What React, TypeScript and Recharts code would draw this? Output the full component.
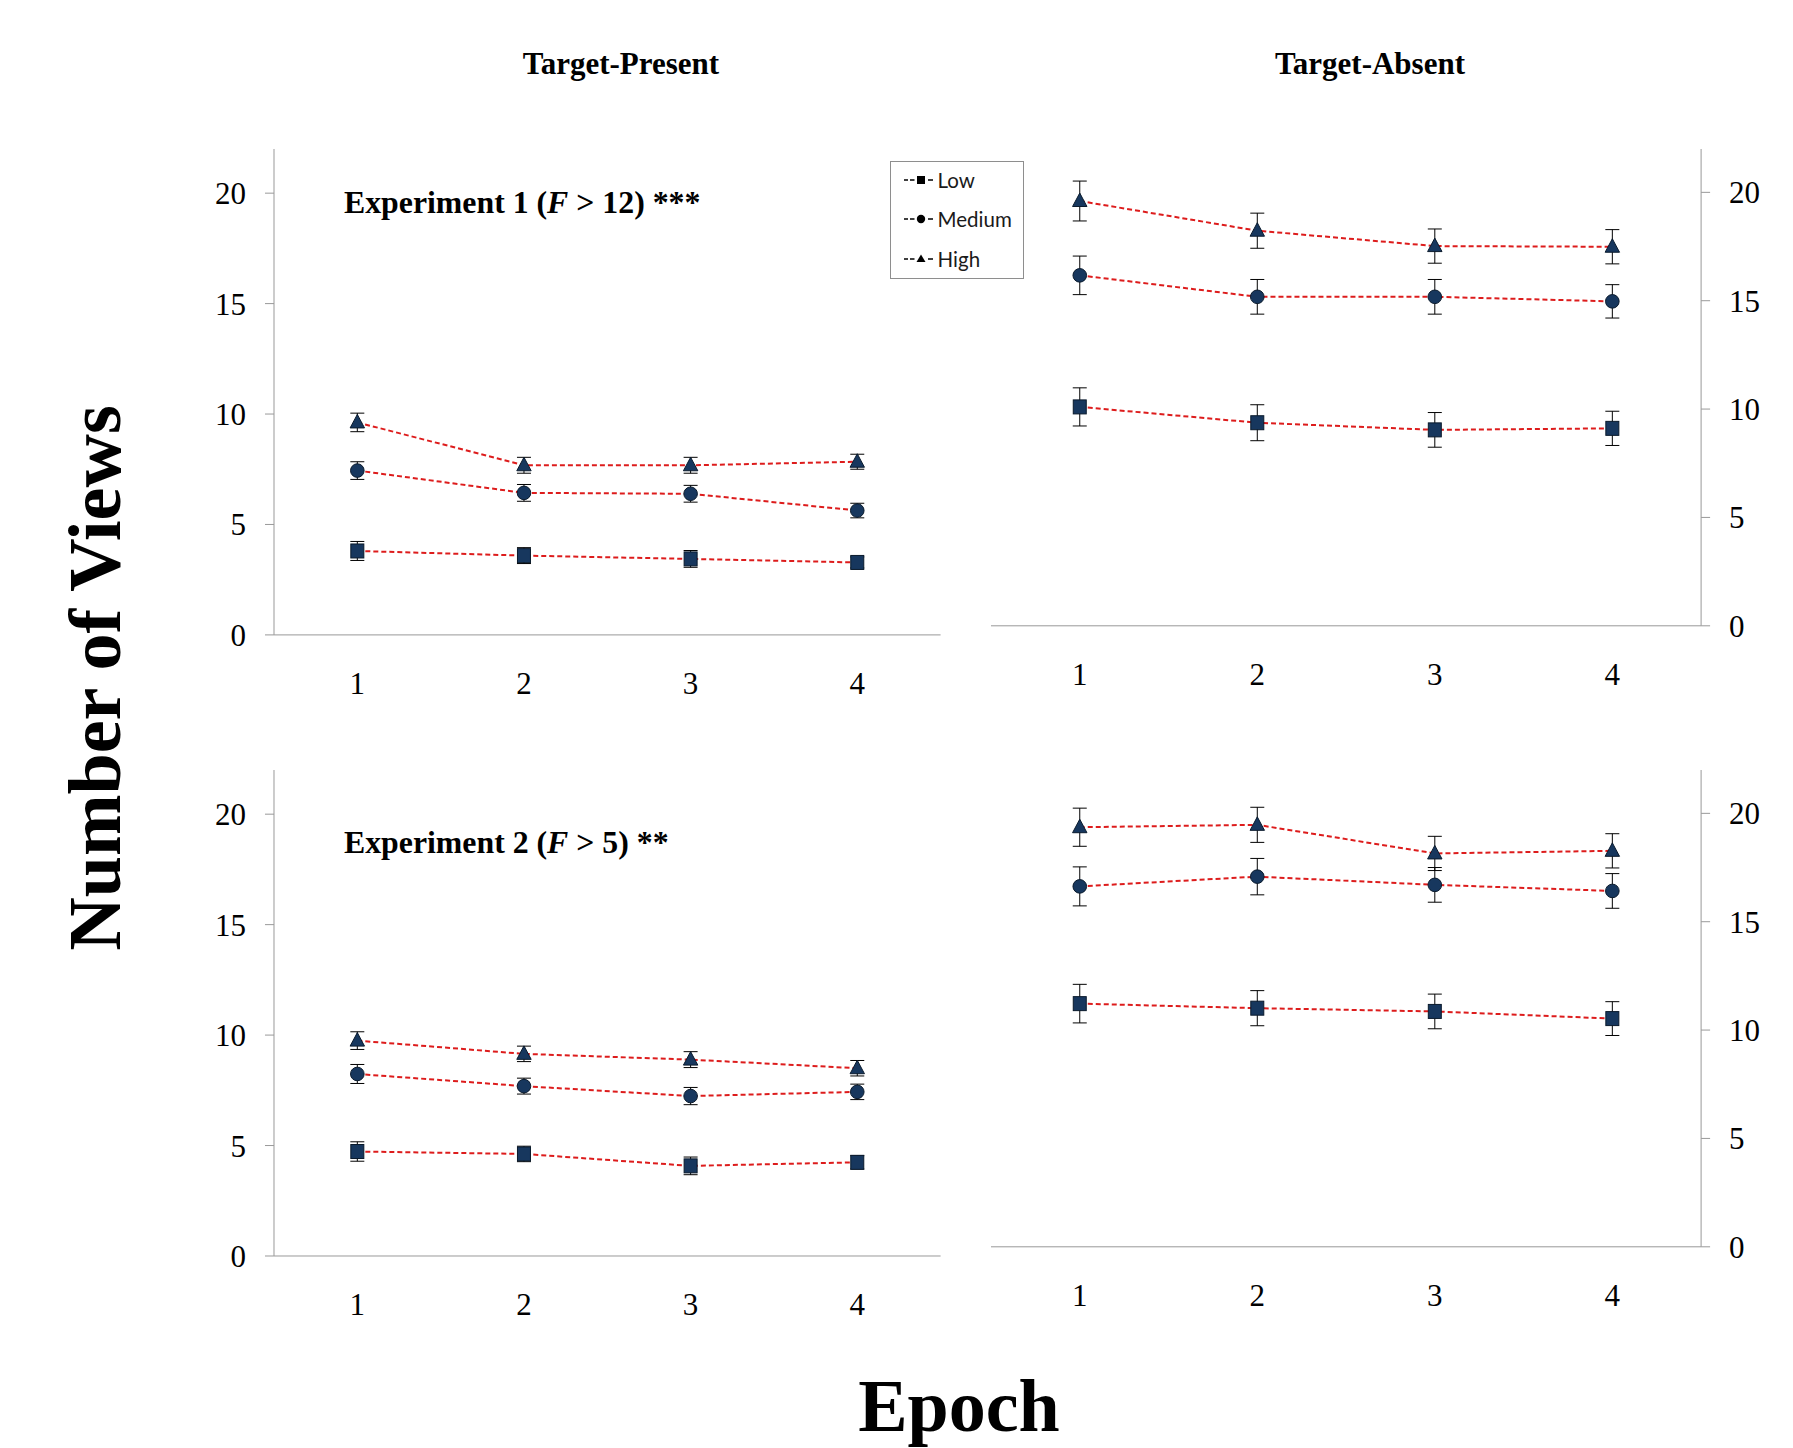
import React from "react";
import { LineChart, Line, XAxis, YAxis, ErrorBar, Legend } from "recharts";

const EPOCHS = [1, 2, 3, 4];
const BOUNDS = [0.5, 1.5, 2.5, 3.5, 4.5];
const Y_TICKS = [0, 5, 10, 15, 20];
const SERIES = ["Low", "Medium", "High"];

// Experiment 1, target-present
const tp1Low = [3.8, 3.59, 3.44, 3.28];
const tp1LowErr = [0.43, 0.36, 0.38, 0.25];
const tp1Med = [7.44, 6.43, 6.39, 5.63];
const tp1MedErr = [0.4, 0.38, 0.38, 0.33];
const tp1High = [9.62, 7.68, 7.68, 7.84];
const tp1HighErr = [0.42, 0.36, 0.36, 0.34];

// Experiment 1, target-absent
const ta1Low = [10.1, 9.37, 9.04, 9.11];
const ta1LowErr = [0.88, 0.83, 0.8, 0.79];
const ta1Med = [16.17, 15.18, 15.18, 14.97];
const ta1MedErr = [0.89, 0.8, 0.8, 0.77];
const ta1High = [19.6, 18.23, 17.52, 17.49];
const ta1HighErr = [0.92, 0.81, 0.79, 0.79];

// Experiment 2, target-present
const tp2Low = [4.73, 4.62, 4.08, 4.24];
const tp2LowErr = [0.44, 0.35, 0.4, 0.3];
const tp2Med = [8.24, 7.69, 7.24, 7.43];
const tp2MedErr = [0.43, 0.36, 0.39, 0.35];
const tp2High = [9.75, 9.15, 8.89, 8.5];
const tp2HighErr = [0.4, 0.35, 0.36, 0.35];

// Experiment 2, target-absent
const ta2Low = [11.22, 11.01, 10.86, 10.53];
const ta2LowErr = [0.89, 0.81, 0.8, 0.78];
const ta2Med = [16.63, 17.08, 16.7, 16.42];
const ta2MedErr = [0.9, 0.84, 0.8, 0.8];
const ta2High = [19.36, 19.47, 18.15, 18.27];
const ta2HighErr = [0.88, 0.81, 0.79, 0.79];

const SERIF = "'Liberation Serif', 'Times New Roman', serif";
const NAVY = "#17375e";
const RED = "#dd1c1c";
const AXIS = "#999";

function rows(low, lowErr, med, medErr, high, highErr) {
  return EPOCHS.map((e, i) => ({
    epoch: e,
    Low: low[i],
    LowErr: lowErr[i],
    Medium: med[i],
    MediumErr: medErr[i],
    High: high[i],
    HighErr: highErr[i],
  }));
}

// tick labels drawn as plain serif text (recharts passes x, y, anchor and payload)
function SerifTick(props: any) {
  const { x, y, payload, textAnchor, verticalAnchor } = props;
  const dy = verticalAnchor === "start" ? "0.71em" : "0.355em";
  return (
    <text x={x} y={y} dy={dy} textAnchor={textAnchor} fill="#000" fontSize={31} fontFamily={SERIF}>
      {payload.value}
    </text>
  );
}

function marker(kind: string) {
  return (props: any) => {
    const { cx, cy, index } = props;
    const k = `${kind}-${index}`;
    if (cx == null || cy == null) return <g key={k} />;
    if (kind === "Low")
      return <rect key={k} x={cx - 6.5} y={cy - 7} width={13} height={14} fill={NAVY} stroke="#0a1a2c" strokeWidth={1} />;
    if (kind === "Medium")
      return <circle key={k} cx={cx} cy={cy} r={6.8} fill={NAVY} stroke="#0a1a2c" strokeWidth={1} />;
    return <path key={k} d={`M${cx},${cy - 8}L${cx + 7.2},${cy + 5.5}L${cx - 7.2},${cy + 5.5}Z`} fill={NAVY} stroke="#0a1a2c" strokeWidth={1} />;
  };
}

function LegendIcon({ kind }: { kind: string }) {
  let m;
  if (kind === "Low") m = <rect x={14} y={3} width={8} height={8} fill="#000" />;
  else if (kind === "Medium") m = <circle cx={18} cy={7} r={4.2} fill="#000" />;
  else m = <path d="M18,2.5L22.5,10L13.5,10Z" fill="#000" />;
  return (
    <svg width={34} height={14} style={{ display: "block" }}>
      <line x1={1} y1={7} x2={5} y2={7} stroke="#000" strokeWidth={1.5} />
      <line x1={7} y1={7} x2={11.5} y2={7} stroke="#000" strokeWidth={1.5} />
      {m}
      <line x1={25} y1={7} x2={30} y2={7} stroke="#000" strokeWidth={1.5} />
    </svg>
  );
}

function LegendBox({ payload }: any) {
  const items = [...(payload || [])].sort((a: any, b: any) => SERIES.indexOf(a.value) - SERIES.indexOf(b.value));
  return (
    <div
      style={{
        width: 134,
        height: 118,
        border: "1px solid #8e8e8e",
        boxSizing: "border-box",
        background: "#fff",
        position: "relative",
        fontFamily: "Lato, 'Open Sans', sans-serif",
        fontSize: 20.5,
        color: "#1a1a1a",
      }}
    >
      {items.map((p: any, i: number) => (
        <div
          key={p.value}
          style={{ position: "absolute", left: 12, top: 6 + i * 39.5, height: 24, display: "flex", alignItems: "center" }}
        >
          <LegendIcon kind={p.value} />
          <span style={{ marginLeft: 1 }}>{p.value}</span>
        </div>
      ))}
    </div>
  );
}

type Box = { x0: number; x1: number; y0: number; y1: number };

function Panel({ box, side, data, legendAt }: { box: Box; side: "left" | "right"; data: any[]; legendAt?: { x: number; y: number } }) {
  const left = side === "left" ? box.x0 - 110 : box.x0 - 10;
  const right = side === "left" ? box.x1 + 10 : box.x1 + 100;
  const top = box.y0 - 20;
  const bottom = box.y1 + 80;
  const yW = side === "left" ? box.x0 - left : right - box.x1;
  const margin = {
    top: box.y0 - top,
    right: side === "left" ? right - box.x1 : 0,
    left: side === "left" ? 0 : box.x0 - left,
    bottom: bottom - box.y1 - 9 - 60,
  };
  return (
    <div style={{ position: "absolute", left, top, fontFamily: SERIF, zIndex: legendAt ? 2 : 1 }}>
      <LineChart width={right - left} height={bottom - top} data={data} margin={margin}>
        <XAxis xAxisId="grid" type="number" dataKey="epoch" domain={[0.5, 4.5]} ticks={BOUNDS} tick={false} tickSize={9} height={9} stroke={AXIS} />
        <XAxis
          xAxisId="lab"
          type="number"
          dataKey="epoch"
          domain={[0.5, 4.5]}
          ticks={EPOCHS}
          axisLine={false}
          tickLine={false}
          tickSize={0}
          tickMargin={28}
          height={60}
          tick={SerifTick}
        />
        <YAxis orientation={side} width={yW} domain={[0, 22]} ticks={Y_TICKS} interval={0} tickSize={9} tickMargin={19} stroke={AXIS} tick={SerifTick} />
        {SERIES.map((s) => (
          <Line
            key={s}
            xAxisId="lab"
            dataKey={s}
            name={s}
            stroke={RED}
            strokeWidth={2}
            strokeDasharray="5 3"
            dot={marker(s)}
            activeDot={false}
            isAnimationActive={false}
          >
            <ErrorBar dataKey={`${s}Err`} direction="y" width={7} stroke="#000" strokeWidth={1} />
          </Line>
        ))}
        {legendAt && (
          <Legend
            layout="vertical"
            align="center"
            verticalAlign="middle"
            content={LegendBox}
            wrapperStyle={{ left: legendAt.x - left, top: legendAt.y - top, width: 134, height: 118 }}
          />
        )}
      </LineChart>
    </div>
  );
}

export default function App() {
  return (
    <div style={{ position: "absolute", left: 0, top: 0, width: 1793, height: 1448, background: "#fff", overflow: "hidden" }}>
      <Panel
        box={{ x0: 274.4, x1: 941, y0: 148.7, y1: 634.6 }}
        side="left"
        data={rows(tp1Low, tp1LowErr, tp1Med, tp1MedErr, tp1High, tp1HighErr)}
        legendAt={{ x: 889.6, y: 161 }}
      />
      <Panel box={{ x0: 991.4, x1: 1701.5, y0: 148.7, y1: 625.5 }} side="right" data={rows(ta1Low, ta1LowErr, ta1Med, ta1MedErr, ta1High, ta1HighErr)} />
      <Panel box={{ x0: 274.4, x1: 941, y0: 769.6, y1: 1255.6 }} side="left" data={rows(tp2Low, tp2LowErr, tp2Med, tp2MedErr, tp2High, tp2HighErr)} />
      <Panel box={{ x0: 991.4, x1: 1701.5, y0: 769.6, y1: 1246.4 }} side="right" data={rows(ta2Low, ta2LowErr, ta2Med, ta2MedErr, ta2High, ta2HighErr)} />
      <svg width={1793} height={1448} style={{ position: "absolute", left: 0, top: 0, pointerEvents: "none", zIndex: 3 }} fontFamily={SERIF} fontWeight="bold">
        <text x={621} y={74} textAnchor="middle" fontSize={31}>Target-Present</text>
        <text x={1370} y={74} textAnchor="middle" fontSize={31}>Target-Absent</text>
        <text x={344} y={212.5} fontSize={31.8}>
          Experiment 1 (<tspan fontStyle="italic">F</tspan> &gt; 12) ***
        </text>
        <text x={344} y={853} fontSize={31.8}>
          Experiment 2 (<tspan fontStyle="italic">F</tspan> &gt; 5) **
        </text>
        <text transform="translate(120,678) rotate(-90)" textAnchor="middle" fontSize={74}>Number of Views</text>
        <text x={959} y={1431} textAnchor="middle" fontSize={74}>Epoch</text>
      </svg>
    </div>
  );
}
